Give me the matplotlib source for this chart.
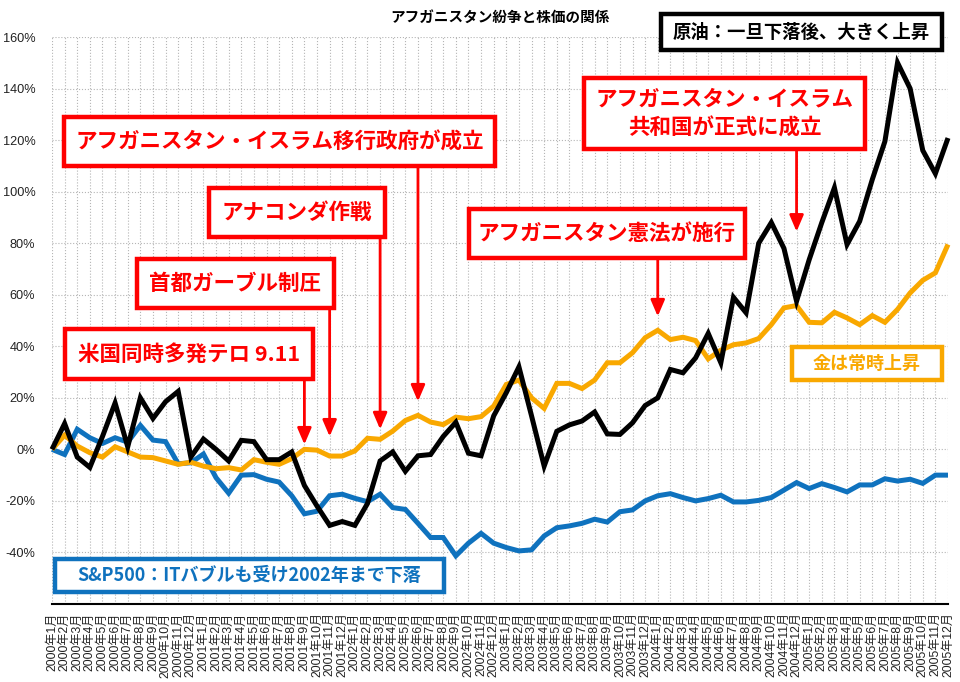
import matplotlib
matplotlib.use('Agg')
import matplotlib.pyplot as plt
from matplotlib.patches import Rectangle
from matplotlib.transforms import blended_transform_factory

plt.rcParams['font.family'] = ['Liberation Sans', 'Noto Sans CJK JP']

# ---------------- data ----------------
years = [2000, 2001, 2002, 2003, 2004, 2005]
months = list(range(1, 13))
labels = [f"{y}年{m}月" for y in years for m in months]

oil = [0, 10, -3, -7, 5, 18, 1, 20, 12, 18.5, 22.5, -3,
       4, 0, -4.5, 3.5, 3, -4, -4, -1, -14, -22, -29.5, -28,
       -29.5, -21, -4.5, -1, -8.5, -2.5, -2, 5, 10.5, -1.5, -2.5, 13,
       22, 32, 13, -6.5, 7, 9.5, 11, 14.5, 6, 5.8, 10.3, 17,
       20, 31, 29.7, 35.5, 45, 33.6, 59, 53, 80, 88, 78, 57.5,
       73.6, 88, 101.5, 79.5, 88.5, 104.7, 119.5, 150, 140, 116, 107, 120.8]

gold = [0, 5.5, 1.3, -1.3, -3, 1, -1, -3, -3.2, -4.5, -5.8, -5,
        -6.5, -7.5, -7.1, -8, -4, -5, -5.8, -3.6, 0, -0.3, -2.6, -2.6,
        -0.6, 4.3, 3.9, 7.1, 11.2, 13.2, 10.6, 9.6, 12.5, 11.9, 12.7, 16.8,
        25.2, 26.9, 20, 15.9, 25.6, 25.6, 23.6, 26.9, 33.6, 33.6, 37.5, 43.3,
        46.2, 42.6, 43.5, 42.2, 35.1, 38.5, 40.6, 41.3, 43, 48.4, 54.9, 55.8,
        49.3, 49.1, 53.2, 51, 48.4, 51.9, 49.3, 54.3, 60.7, 65.6, 68.5, 79.5]

sp500 = [0, -2, 7.8, 4.5, 2.3, 4.5, 2.8, 9.3, 3.6, 3, -5.6, -5.2,
         -1.8, -11, -17, -10, -9.8, -11.6, -12.7, -18, -25, -24, -18, -17.4,
         -19, -20.3, -17.4, -22.6, -23.3, -28.7, -34.2, -34.2, -41.3, -36.4, -32.6, -36.4,
         -38.1, -39.4, -39, -33.6, -30.4, -29.7, -28.7, -27.1, -28.2, -24.2, -23.5, -20,
         -18, -17.2, -18.7, -20, -19.1, -17.8, -20.4, -20.4, -19.8, -18.7, -15.8, -12.9,
         -15.2, -13.3, -14.8, -16.5, -13.8, -13.8, -11.4, -12.3, -11.6, -13.2, -10, -10]

y_ticks = [-40, -20, 0, 20, 40, 60, 80, 100, 120, 140, 160]

# ---------------- figure ----------------
W, H = 960, 682
fig = plt.figure(figsize=(W / 100, H / 100), dpi=100)
fig.patch.set_facecolor('white')
ax = fig.add_axes([52 / W, 1 - 604 / H, (948 - 52) / W, (604 - 37) / H])

x = list(range(len(labels)))
common = dict(lw=3.6, solid_joinstyle='miter', solid_capstyle='butt', clip_on=False)
ax.plot(x, sp500, color='#0f72be', zorder=3, **common)
ax.plot(x, gold, color='#f9a800', zorder=3, **common)
ax.plot(x, oil, color='black', zorder=4, **common)

ax.set_xlim(0, len(labels) - 1)
ax.set_ylim(-60, 160)
ax.set_yticks(y_ticks)
ax.set_yticklabels([f"{v}%" for v in y_ticks], fontsize=9.2, color='#222222')
ax.set_xticks(x)
ax.set_xticklabels(labels, rotation=90, fontsize=8.7, color='#222222')
ax.tick_params(axis='both', length=0)
ax.tick_params(axis='y', pad=12)
ax.tick_params(axis='x', pad=6)
ax.grid(True, ls=':', color='#b5b5b5', lw=0.8)
ax.set_axisbelow(True)
for s in ['left', 'right', 'top']:
    ax.spines[s].set_visible(False)
ax.spines['bottom'].set_color('black')
ax.spines['bottom'].set_linewidth(1.5)

fig.text(500 / W, 1 - 17 / H, "アフガニスタン紛争と株価の関係", ha='center', va='center',
         fontsize=10.5, fontweight='bold', family=['Noto Sans CJK JP'])

# ---------------- annotation boxes ----------------
def box(x0, y0, x1, y1, color, text, fs, lsp=1.2):
    inset = 2
    fig.add_artist(Rectangle(((x0 + inset) / W, 1 - (y1 - inset) / H),
                             (x1 - x0 - 2 * inset) / W, (y1 - y0 - 2 * inset) / H,
                             transform=fig.transFigure, facecolor='white',
                             edgecolor=color, lw=3.2, zorder=5, joinstyle='miter'))
    t = fig.text((x0 + x1) / 2 / W, 1 - (y0 + y1) / 2 / H, text, ha='center', va='center',
                 fontsize=fs, fontweight='bold', color=color, family=['Noto Sans CJK JP'],
                 zorder=6, linespacing=lsp, multialignment='center')
    return t

RED = '#ff0000'
box(62, 115, 497, 168, RED, "アフガニスタン・イスラム移行政府が成立", 15.5)
box(207, 186, 387, 239, RED, "アナコンダ作戦", 15.5)
box(135, 257, 336, 310, RED, "首都ガーブル制圧", 15.5)
box(63, 327, 315, 381, RED, "米国同時多発テロ 9.11", 15.5)
box(467, 207, 747, 260, RED, "アフガニスタン憲法が施行", 15.5)
box(582, 76, 867, 151, RED, "アフガニスタン・イスラム\n共和国が正式に成立", 15.5, lsp=1.45)
box(659, 12, 944, 52, 'black', "原油：一旦下落後、大きく上昇", 13.2)
box(790, 345, 944, 382, '#f9a800', "金は常時上昇", 13)
box(53, 557, 446, 594, '#0f72be', "S&P500：ITバブルも受け2002年まで下落", 13)

# ---------------- arrows ----------------
mixed = blended_transform_factory(ax.transData, fig.transFigure)

def arrow(idx, tip_val, box_bottom_px):
    ax.annotate('', xy=(idx, tip_val), xycoords='data',
                xytext=(idx, 1 - box_bottom_px / H), textcoords=mixed,
                arrowprops=dict(arrowstyle='-|>,head_length=0.7,head_width=0.3',
                                mutation_scale=14, color=RED, lw=2,
                                shrinkA=0, shrinkB=0),
                annotation_clip=False, zorder=6)

arrow(20, 1.9, 381)    # 9.11
arrow(22, 5.0, 310)    # Kabul
arrow(26, 7.8, 239)    # Anaconda
arrow(29, 18.6, 168)   # transitional government
arrow(48, 51.6, 260)   # constitution
arrow(59, 84.5, 151)   # Islamic Republic

fig.savefig('out.png', dpi=100)
